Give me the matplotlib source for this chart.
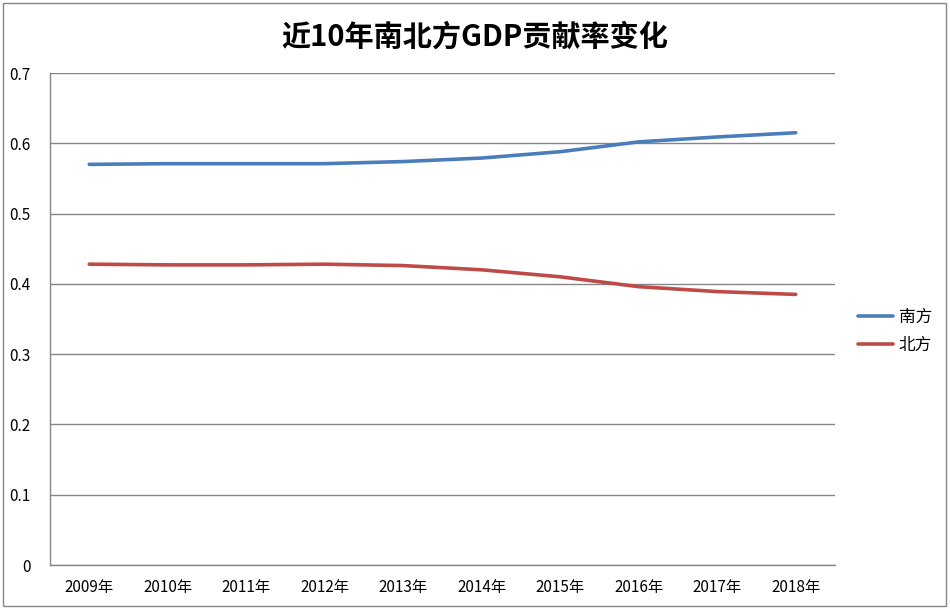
import numpy as np
import matplotlib
matplotlib.use("Agg")
from matplotlib import pyplot as plt
from matplotlib.patches import Rectangle

plt.rcParams['font.family'] = ['Noto Sans CJK SC', 'DejaVu Sans']

years = ['2009年', '2010年', '2011年', '2012年', '2013年',
         '2014年', '2015年', '2016年', '2017年', '2018年']
south = [0.570, 0.571, 0.571, 0.571, 0.574, 0.579, 0.588, 0.602, 0.609, 0.615]
north = [0.428, 0.427, 0.427, 0.428, 0.426, 0.420, 0.410, 0.396, 0.389, 0.385]

fig = plt.figure(figsize=(9.5, 6.1), dpi=100)
ax = fig.add_axes([50/950, 1-565/610, 785/950, 492/610])

x = np.arange(len(years))
ax.plot(x, south, color='#4A7EBB', lw=2.6, solid_capstyle='round', label='南方')
ax.plot(x, north, color='#BE4B48', lw=2.6, solid_capstyle='round', label='北方')

ax.set_xlim(-0.5, len(years) - 0.5)
ax.set_ylim(0, 0.7)
ax.set_yticks(np.arange(0, 0.71, 0.1))
ax.set_yticklabels(['0', '0.1', '0.2', '0.3', '0.4', '0.5', '0.6', '0.7'])
ax.set_xticks(x)
ax.set_xticklabels(years)
ax.tick_params(length=0, labelsize=11, colors='black', pad=10)
ax.tick_params(axis='y', pad=14)
ax.grid(axis='y', color='#868686', lw=1)
ax.set_axisbelow(True)
for s in ['top', 'right']:
    ax.spines[s].set_visible(False)
for s in ['left', 'bottom']:
    ax.spines[s].set_color('#868686')
    ax.spines[s].set_linewidth(1)

fig.text(0.5, 1-37/610, '近10年南北方GDP贡献率变化', ha='center', va='center',
         fontsize=21, fontweight='bold')

ax.legend(loc='center left', bbox_to_anchor=(858/950, 1-331/610),
          bbox_transform=fig.transFigure, frameon=False, borderpad=0,
          borderaxespad=0, fontsize=12, handlelength=2.1, labelspacing=0.65,
          handletextpad=0.35)

fig.patches.append(Rectangle((3/950, 4/610), 943/950, 603/610, transform=fig.transFigure,
                             fill=False, edgecolor='#868686', lw=1))

fig.savefig('out.png', dpi=100)
